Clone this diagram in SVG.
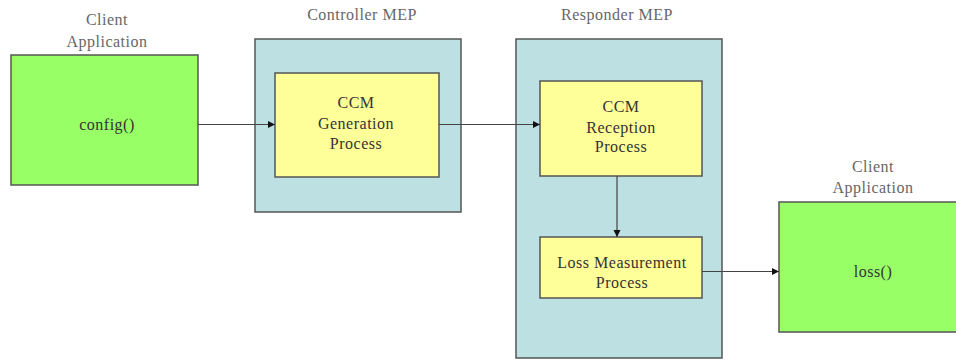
<svg xmlns="http://www.w3.org/2000/svg" width="956" height="362" viewBox="0 0 956 362">
<defs>
<style>
text{font-family:'Liberation Serif','Times New Roman','DejaVu Serif',serif;font-size:16px;letter-spacing:0.5px;text-anchor:middle}
.lbl{fill:#666}
.in{fill:#333}
.client{fill:#99ff66;stroke:#555;stroke-width:1.5}
.mep{fill:#bde0e2;stroke:#555;stroke-width:1.5}
.proc{fill:#ffff99;stroke:#555;stroke-width:1.5}
.conn{stroke:#444;stroke-width:1.2;fill:none;marker-end:url(#ah)}
</style>
<marker id="ah" markerWidth="8" markerHeight="8" refX="7" refY="4" orient="auto" markerUnits="userSpaceOnUse">
<path d="M0,0.5 L7,4 L0,7.5 z" fill="#111"/>
</marker>
</defs>
<rect width="956" height="362" fill="#fff"/>
<g id="client1">
<text class="lbl" x="107" y="25">Client</text>
<text class="lbl" x="107" y="47">Application</text>
<rect class="client" x="11" y="55" width="187" height="130"/>
<text class="in" x="107" y="130">config()</text>
</g>
<g id="controller-mep">
<text class="lbl" x="362" y="20">Controller MEP</text>
<rect class="mep" x="255" y="39" width="206" height="173"/>
</g>
<g id="ccm-generation">
<rect class="proc" x="275" y="73" width="164" height="104"/>
<text class="in" x="356" y="108">CCM</text>
<text class="in" x="356" y="129">Generation</text>
<text class="in" x="356" y="149">Process</text>
</g>
<g id="responder-mep">
<text class="lbl" x="617" y="20">Responder MEP</text>
<rect class="mep" x="516" y="39" width="206" height="319"/>
</g>
<g id="ccm-reception">
<rect class="proc" x="540" y="81" width="162" height="95"/>
<text class="in" x="621" y="112">CCM</text>
<text class="in" x="621" y="133">Reception</text>
<text class="in" x="621" y="152">Process</text>
</g>
<g id="loss-measurement">
<rect class="proc" x="540" y="237" width="162" height="61"/>
<text class="in" x="622" y="268">Loss Measurement</text>
<text class="in" x="622" y="288">Process</text>
</g>
<g id="client2">
<text class="lbl" x="873" y="172">Client</text>
<text class="lbl" x="873" y="193">Application</text>
<rect class="client" x="779" y="202" width="180" height="130"/>
<text class="in" x="873" y="277">loss()</text>
</g>
<g id="connectors">
<line class="conn" x1="198" y1="124.5" x2="275" y2="124.5"/>
<line class="conn" x1="439" y1="124.5" x2="540" y2="124.5"/>
<line class="conn" x1="617" y1="176" x2="617" y2="237"/>
<line class="conn" x1="702" y1="271.5" x2="779" y2="271.5"/>
</g>
</svg>
